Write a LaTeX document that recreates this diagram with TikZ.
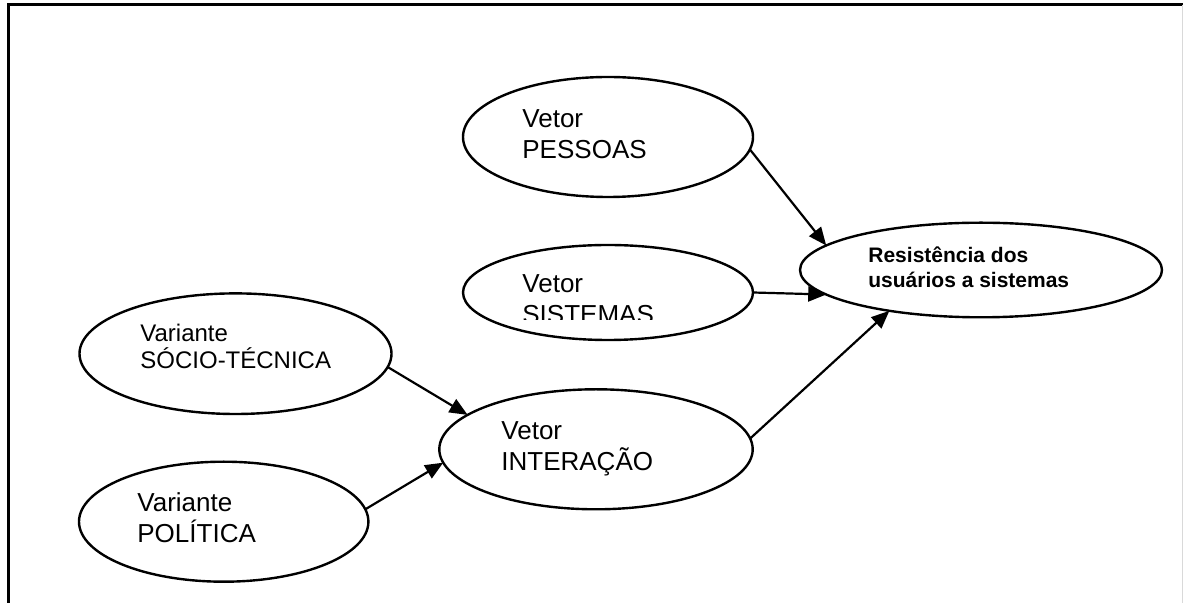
\documentclass[tikz,border=0pt]{standalone}
\usepackage{fontspec}
\setmainfont{Liberation Sans}
\usetikzlibrary{arrows.meta,shapes.geometric}
\begin{document}
\begin{tikzpicture}[x=0.5pt,y=-0.5pt,
  ell/.style={draw, ellipse, line width=1.2pt, inner sep=0pt, outer sep=0pt},
  lbl/.style={anchor=base west, inner sep=0pt, font=\fontsize{13pt}{15.5pt}\selectfont},
  lbls/.style={lbl, font=\fontsize{12pt}{13.5pt}\selectfont},
  lblb/.style={lbl, font=\fontsize{10.5pt}{12.5pt}\selectfont\bfseries},
  arr/.style={-{Triangle[length=9pt,width=7.5pt]}, line width=1.1pt},
  frameline/.style={line width=1.5pt, line join=miter}]
\useasboundingbox (0,0) rectangle (1183,603);
% frame
\draw[frameline] (8,603) -- (8,5) -- (1183,5);
\draw[black!15, line width=0.5pt] (1182,5) -- (1182,603);
% ellipses
\node[ell, minimum width=145pt, minimum height=60pt] (pes) at (608,137) {};
\node[ell, minimum width=145pt, minimum height=47.5pt] (sis) at (608,292.5) {};
\node[ell, minimum width=181pt, minimum height=47.3pt] (res) at (981,270) {};
\node[ell, minimum width=156pt, minimum height=60.3pt] (soc) at (235.5,353.7) {};
\node[ell, minimum width=144.7pt, minimum height=60pt] (pol) at (223.7,521.7) {};
\node[ell, minimum width=156.7pt, minimum height=60pt] (int) at (596,449.3) {};
% texts
\node[lbl] (pesa) at (522,128) {Vetor};
\node[lbl] (pesb) at (522,159) {PESSOAS};
\node[lbl] (sisa) at (522,293) {Vetor};
\begin{scope}
  \clip (450,250) rectangle (780,320);
  \node[lbl] (sisb) at (522,324) {SISTEMAS};
\end{scope}
\node[lblb] (resa) at (868,263) {Resistência dos};
\node[lblb] (resb) at (868,288) {usuários a sistemas};
\node[lbls] (soca) at (140,342) {Variante};
\node[lbls] (socb) at (140,369) {SÓCIO-TÉCNICA};
\node[lbl] (pola) at (137,512) {Variante};
\node[lbl] (polb) at (137,543) {POLÍTICA};
\node[lbl] (inta) at (501,440) {Vetor};
\node[lbl] (intb) at (501,471) {INTERAÇÃO};
% arrows
\draw[arr] (pes.-5) -- (res.171);
\draw[arr] (sis.east) -- (res.189);
\draw[arr] (int.4) -- (res.204);
\draw[arr] (soc.-5) -- (int.165);
\draw[arr] (pol.5) -- (int.185);
\end{tikzpicture}
\end{document}
